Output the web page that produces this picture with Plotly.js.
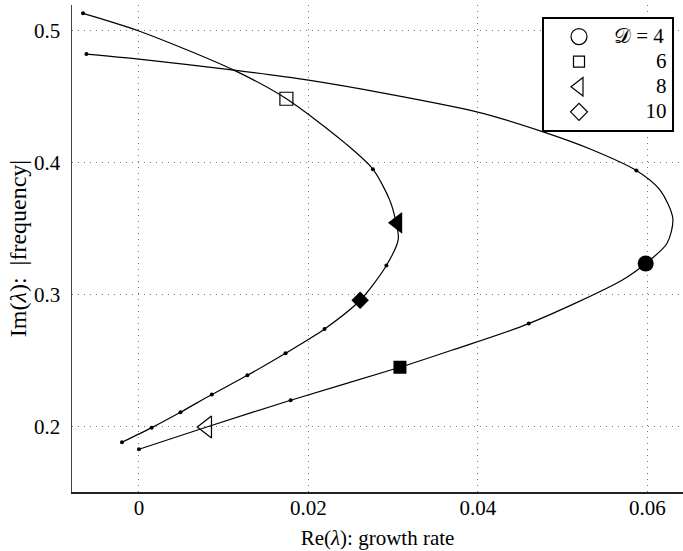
<!DOCTYPE html>
<html>
<head>
<meta charset="utf-8">
<script src="https://cdn.plot.ly/plotly-3.0.1.min.js"></script>
<style>html,body{margin:0;padding:0;background:#fff;}#chart{width:683px;height:551px;}</style>
</head>
<body>
<div id="chart"></div>
<script>
// D values shown in the legend and their marker symbols
const dValues = [4, 6, 8, 10];
const dSymbols = ['circle', 'square', 'triangle-left', 'diamond'];

// Outer branch (bottom to top)
const outerCurveX = [0.0000, 0.0080, 0.0179, 0.0308, 0.0369, 0.0460, 0.0570, 0.0598, 0.0623, 0.0630, 0.0615, 0.0587, 0.0536, 0.0477, 0.0401, 0.0290, 0.0200, 0.0112, 0.0000, -0.0062];
const outerCurveY = [0.1828, 0.1997, 0.2200, 0.2450, 0.2579, 0.2781, 0.3110, 0.3237, 0.3388, 0.3578, 0.3793, 0.3942, 0.4096, 0.4235, 0.4383, 0.4527, 0.4627, 0.4703, 0.4787, 0.4825];

// Inner branch (bottom to top)
const innerCurveX = [-0.0020, 0.0015, 0.0049, 0.0086, 0.0128, 0.0173, 0.0219, 0.0261, 0.0292, 0.0306, 0.0303, 0.0296, 0.0276, 0.0245, 0.0174, 0.0112, 0.0000, -0.0066];
const innerCurveY = [0.1881, 0.1992, 0.2109, 0.2243, 0.2389, 0.2556, 0.2740, 0.2958, 0.3222, 0.3420, 0.3560, 0.3717, 0.3952, 0.4140, 0.4486, 0.4703, 0.5000, 0.5134];

// Small dots (intermediate D values)
const outerDotX = [0.0000, 0.0179, 0.0460, 0.0587, -0.0062];
const outerDotY = [0.1828, 0.2200, 0.2781, 0.3942, 0.4825];
const innerDotX = [-0.0020, 0.0015, 0.0049, 0.0086, 0.0128, 0.0173, 0.0219, 0.0292, 0.0276, -0.0066];
const innerDotY = [0.1881, 0.1992, 0.2109, 0.2243, 0.2389, 0.2556, 0.2740, 0.3222, 0.3952, 0.5134];

// Highlighted markers per D (filled / open), null where absent
const filledX = [0.0598, 0.0308, 0.0305, 0.0261];
const filledY = [0.3237, 0.2450, 0.3545, 0.2958];
const openX = [null, 0.0174, 0.0080, null];
const openY = [null, 0.4486, 0.1997, null];

const xTicks = [0, 0.02, 0.04, 0.06];
const xTickText = ['0', '0.02', '0.04', '0.06'];
const yTicks = [0.2, 0.3, 0.4, 0.5];
const yTickText = ['0.2', '0.3', '0.4', '0.5'];

const filledSizes = [16, 13, 19, 13.5];
const legendSizes = [17, 11, 18, 13];
const legendNames = ['\u{1D49F} = 4', '\u2007\u2007\u2007\u20076', '\u2007\u2007\u2007\u20078', '\u2007\u2007\u200710'];

const FONT = 'Liberation Serif, Times New Roman, DejaVu Serif, serif';
const traces = [];

traces.push({x: outerCurveX, y: outerCurveY, mode: 'lines', line: {color: '#000', width: 1.2, shape: 'spline', smoothing: 0.8}, showlegend: false, hoverinfo: 'skip'});
traces.push({x: innerCurveX, y: innerCurveY, mode: 'lines', line: {color: '#000', width: 1.2, shape: 'spline', smoothing: 0.8}, showlegend: false, hoverinfo: 'skip'});
traces.push({x: outerDotX, y: outerDotY, mode: 'markers', marker: {color: '#000', size: 4}, showlegend: false});
traces.push({x: innerDotX, y: innerDotY, mode: 'markers', marker: {color: '#000', size: 4}, showlegend: false});

dValues.forEach((d, i) => {
  if (filledX[i] !== null) {
    traces.push({x: [filledX[i]], y: [filledY[i]], mode: 'markers', showlegend: false,
      marker: {symbol: dSymbols[i], size: filledSizes[i], color: '#000', line: {width: 0}}});
  }
  if (openX[i] !== null) {
    traces.push({x: [openX[i]], y: [openY[i]], mode: 'markers', showlegend: false,
      marker: {symbol: dSymbols[i] + '-open', size: filledSizes[i], color: '#000', line: {width: 1.2, color: '#000'}}});
  }
});

dValues.forEach((d, i) => {
  traces.push({x: [null], y: [null], mode: 'markers', name: '<span style="font-size:21px">' + legendNames[i] + '</span>',
    marker: {symbol: dSymbols[i] + '-open', size: legendSizes[i], color: '#000', line: {width: 1.2, color: '#000'}}});
});

const layout = {
  width: 683, height: 551,
  margin: {l: 72, r: 0, t: 5, b: 59},
  paper_bgcolor: '#fff', plot_bgcolor: '#fff',
  font: {family: FONT, size: 21, color: '#000'},
  xaxis: {
    range: [-0.0079, 0.0642], tickvals: xTicks, ticktext: xTickText,
    showgrid: true, gridcolor: '#777', gridwidth: 1, griddash: '1px,5px',
    zeroline: false, showline: true, linecolor: '#222', linewidth: 1.5, ticks: '',
    ticklabelstandoff: -4,
    tickfont: {family: FONT, size: 21, color: '#000'},
    title: {text: 'Re(<i>λ</i>): growth rate', font: {family: FONT, size: 21, color: '#000'}, standoff: 11}
  },
  yaxis: {
    range: [0.1504, 0.5197], tickvals: yTicks, ticktext: yTickText,
    showgrid: true, gridcolor: '#777', gridwidth: 1, griddash: '1px,5px',
    zeroline: false, showline: true, linecolor: '#444', linewidth: 1.5, ticks: '',
    ticklabelstandoff: 6,
    tickfont: {family: FONT, size: 21, color: '#000'},
    title: {text: 'Im(<i>λ</i>):\u2002|frequency|\u2003\u2009', font: {family: FONT, size: 24, color: '#000'}, standoff: 0}
  },
  legend: {
    x: (542 - 72) / 611, xanchor: 'left', y: (491.7 - 17) / 486.7, yanchor: 'top',
    bgcolor: '#fff', bordercolor: '#000', borderwidth: 2,
    font: {family: FONT, size: 17, color: '#000'},
    itemwidth: 60
  },
  showlegend: true
};

Plotly.newPlot('chart', traces, layout, {staticPlot: true, displayModeBar: false});
</script>
</body>
</html>
